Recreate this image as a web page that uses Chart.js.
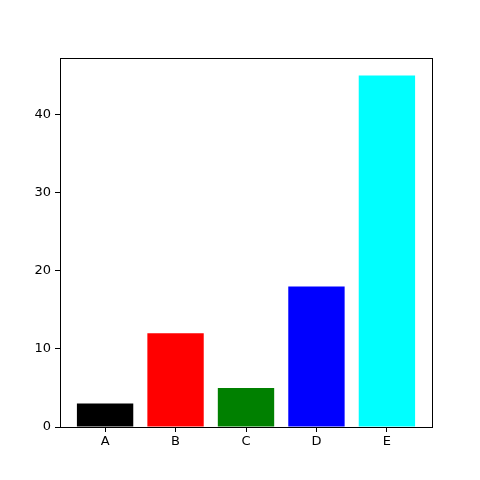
<!DOCTYPE html>
<html>
<head>
<meta charset="utf-8">
<script src="https://cdn.jsdelivr.net/npm/chart.js@4"></script>
<style>
  html, body { margin: 0; padding: 0; background: #fff; }
  #wrap { width: 480px; height: 480px; }
</style>
</head>
<body>
<div id="wrap"><canvas id="chart"></canvas></div>
<script>
const categories = ['A', 'B', 'C', 'D', 'E'];
const values = [3, 12, 5, 18, 45];
const barColors = ['#000000', '#ff0000', '#008000', '#0000ff', '#00ffff'];
const yTicks = [0, 10, 20, 30, 40];

// box around the plot area, like matplotlib spines
const frame = {
    id: 'frame',
    afterDraw(chart) {
        const a = chart.chartArea;
        const ctx = chart.ctx;
        ctx.save();
        ctx.strokeStyle = '#000';
        ctx.lineWidth = 1;
        ctx.strokeRect(Math.round(a.left) + 0.5, Math.round(a.top) + 0.5,
            Math.round(a.right - a.left), Math.round(a.bottom - a.top));
        ctx.restore();
    }
};

const font = { family: 'DejaVu Sans', size: 13 };

new Chart(document.getElementById('chart'), {
    type: 'bar',
    data: {
        datasets: [{
            data: values.map((v, i) => ({ x: i, y: v })),
            backgroundColor: barColors,
            borderWidth: 0,
            barPercentage: 0.8,
            categoryPercentage: 1.0
        }]
    },
    options: {
        responsive: true,
        maintainAspectRatio: false,
        animation: false,
        layout: { padding: { left: 0, right: 48, top: 58, bottom: 0 } },
        plugins: { legend: { display: false }, tooltip: { enabled: false } },
        scales: {
            x: {
                type: 'linear',
                offset: false,
                min: -0.64,
                max: categories.length - 1 + 0.64,
                afterBuildTicks: axis => { axis.ticks = categories.map((c, i) => ({ value: i })); },
                afterFit: axis => { axis.height = 53; },
                ticks: {
                    color: '#000',
                    font,
                    padding: 2,
                    maxRotation: 0,
                    callback: v => categories[v]
                },
                grid: { offset: false, drawOnChartArea: false, drawTicks: true, tickLength: 5, color: '#000' },
                border: { display: true, color: '#000' }
            },
            y: {
                min: 0,
                max: 47.25,
                afterBuildTicks: axis => { axis.ticks = yTicks.map(v => ({ value: v })); },
                afterFit: axis => { axis.width = 60; },
                ticks: { color: '#000', font, padding: 4 },
                grid: { drawOnChartArea: false, drawTicks: true, tickLength: 5, color: '#000' },
                border: { display: true, color: '#000' }
            }
        }
    },
    plugins: [frame]
});
</script>
</body>
</html>
